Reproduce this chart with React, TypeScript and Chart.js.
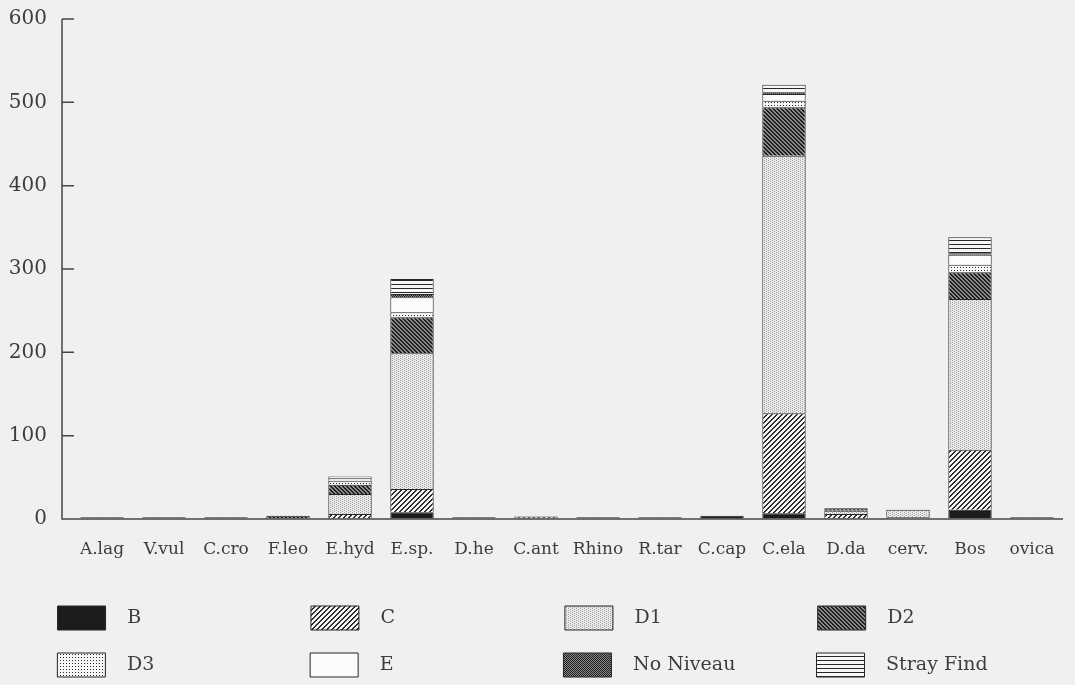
import React, { useEffect, useRef } from 'react';
import { Chart, registerables } from 'chart.js';

Chart.register(...registerables);

// Taxa along the x axis
const categories = [
  'A.lag', 'V.vul', 'C.cro', 'F.leo', 'E.hyd', 'E.sp.', 'D.he', 'C.ant',
  'Rhino', 'R.tar', 'C.cap', 'C.ela', 'D.da', 'cerv.', 'Bos', 'ovica',
];

// Find counts per level, one array per stacked series
const valuesB = [0, 0, 0, 0, 0, 8, 0, 0, 0, 0, 4, 7, 0, 0, 11, 0];
const valuesC = [2, 2, 2, 0, 6, 28, 2, 3, 2, 2, 0, 120, 6, 2, 72, 2];
const valuesD1 = [0, 0, 0, 0, 24, 163, 0, 0, 0, 0, 0, 309, 4, 9, 181, 0];
const valuesD2 = [0, 0, 0, 4, 11, 43, 0, 0, 0, 0, 0, 58, 3, 0, 32, 0];
const valuesD3 = [0, 0, 0, 0, 5, 6, 0, 0, 0, 0, 0, 8, 0, 0, 9, 0];
const valuesE = [0, 0, 0, 0, 3, 18, 0, 0, 0, 0, 0, 8, 0, 0, 12, 0];
const valuesNoNiveau = [0, 0, 0, 0, 0, 4, 0, 0, 0, 0, 0, 2, 0, 0, 2, 0];
const valuesStrayFind = [0, 0, 0, 0, 2, 18, 0, 0, 0, 0, 0, 9, 0, 0, 19, 0];

const seriesNames = ['B', 'C', 'D1', 'D2', 'D3', 'E', 'No Niveau', 'Stray Find'];
const seriesValues = [
  valuesB, valuesC, valuesD1, valuesD2, valuesD3, valuesE, valuesNoNiveau, valuesStrayFind,
];

const yTicks = [0, 100, 200, 300, 400, 500, 600];

const FONT = "'DejaVu Serif', serif";
const TEXT_COLOR = '#3d3d3d';
const AXIS_COLOR = '#454545';
const AXIS_GAP = 9; // y axis line sits a little left of the first category band
const TICK_LEN = 12;
const LEGEND_TEXT_WIDTH = 173.9;

type Painter = (x: number, y: number) => string;

// Pixel tiles for the monochrome fill patterns
const tilePainters: Record<string, { w: number; h: number; paint: Painter }> = {
  B: { w: 2, h: 2, paint: () => '#1c1c1c' },
  C: { w: 5, h: 5, paint: (x, y) => ((x + y) % 5 < 2 ? '#2e2e2e' : '#f6f6f6') },
  D1: { w: 4, h: 4, paint: (x, y) => ((x + 2 * y) % 4 === 0 ? '#a2a2a2' : '#e9e9e9') },
  D2: { w: 4, h: 4, paint: (x, y) => ((((x - y) % 4) + 4) % 4 < 2 ? '#1e1e1e' : '#8c8c8c') },
  D3: { w: 3, h: 3, paint: (x, y) => (x % 3 === 0 && y % 3 === 0 ? '#2a2a2a' : '#f7f7f7') },
  E: { w: 2, h: 2, paint: () => '#fbfbfb' },
  'No Niveau': { w: 2, h: 2, paint: (x, y) => ((x + y) % 2 === 0 ? '#1e1e1e' : '#8a8a8a') },
  'Stray Find': { w: 4, h: 4, paint: (_x, y) => (y % 4 === 0 ? '#262626' : '#f7f7f7') },
};

function makePattern(ctx: CanvasRenderingContext2D, name: string): CanvasPattern | string {
  const spec = tilePainters[name];
  const tile = document.createElement('canvas');
  tile.width = spec.w;
  tile.height = spec.h;
  const tctx = tile.getContext('2d')!;
  for (let y = 0; y < spec.h; y++) {
    for (let x = 0; x < spec.w; x++) {
      tctx.fillStyle = spec.paint(x, y);
      tctx.fillRect(x, y, 1, 1);
    }
  }
  return ctx.createPattern(tile, 'repeat') || '#888';
}

// Pads legend text so every legend entry has the same width (fixed columns)
function padLabel(ctx: CanvasRenderingContext2D, text: string, font: string, target: number) {
  ctx.save();
  ctx.font = font;
  let s = '  ' + text;
  while (ctx.measureText(s + ' ').width <= target) s += ' ';
  while (ctx.measureText(s + '\u200A').width <= target) s += '\u200A';
  ctx.restore();
  return s;
}

const axisLines = {
  id: 'axisLines',
  afterDatasetsDraw(chart: any) {
    const { ctx, chartArea, scales } = chart;
    const y = scales.y;
    const x0 = chartArea.left - AXIS_GAP;
    const yBottom = y.getPixelForValue(yTicks[0]);
    const yTop = y.getPixelForValue(yTicks[yTicks.length - 1]);
    ctx.save();
    ctx.strokeStyle = AXIS_COLOR;
    ctx.lineWidth = 1.5;
    ctx.beginPath();
    ctx.moveTo(x0, yTop);
    ctx.lineTo(x0, yBottom);
    ctx.lineTo(chartArea.right, yBottom);
    yTicks.forEach((v) => {
      const py = y.getPixelForValue(v);
      ctx.moveTo(x0, py);
      ctx.lineTo(x0 + TICK_LEN, py);
    });
    ctx.stroke();
    ctx.restore();
  },
};

export default function App() {
  const canvasRef = useRef<HTMLCanvasElement | null>(null);

  useEffect(() => {
    const canvas = canvasRef.current;
    if (!canvas) return;
    const ctx = canvas.getContext('2d')!;
    const legendFont = `19px ${FONT}`;

    const datasets = seriesNames.map((name, i) => ({
      label: name,
      data: seriesValues[i].map((v) => (v === 0 ? null : v)),
      backgroundColor: makePattern(ctx, name),
      borderColor: '#262626',
      borderWidth: 1,
      stack: 'finds',
      barPercentage: 0.7,
      categoryPercentage: 1.0,
    }));

    const chart = new Chart(canvas, {
      type: 'bar',
      data: { labels: categories, datasets: datasets as any },
      plugins: [axisLines],
      options: {
        animation: false,
        responsive: true,
        maintainAspectRatio: false,
        layout: { padding: { left: 0, top: 19, right: 0, bottom: 0 } },
        scales: {
          x: {
            type: 'category',
            stacked: true,
            offset: true,
            grid: { display: false },
            border: { display: false },
            ticks: {
              font: { family: FONT, size: 17 },
              color: TEXT_COLOR,
              padding: 12,
              maxRotation: 0,
              autoSkip: false,
            },
            afterFit: (s: any) => { s.height = 64; },
          },
          y: {
            type: 'linear',
            stacked: true,
            min: 0,
            max: 600,
            grid: {
              display: true,
              color: 'rgba(0,0,0,0)',
              drawOnChartArea: false,
              drawTicks: true,
              tickLength: 24,
            },
            border: { display: false },
            ticks: {
              stepSize: 100,
              font: { family: FONT, size: 20 },
              color: TEXT_COLOR,
              padding: 0,
            },
            afterFit: (s: any) => { s.width = 71; },
          },
          yRight: {
            type: 'linear',
            position: 'right',
            display: true,
            grid: { display: false },
            border: { display: false },
            ticks: { display: false },
            afterFit: (s: any) => { s.width = 42; },
          },
        },
        plugins: {
          tooltip: { enabled: false },
          legend: {
            position: 'bottom',
            align: 'center',
            labels: {
              boxWidth: 48,
              boxHeight: 24,
              padding: 23,
              color: TEXT_COLOR,
              font: { family: FONT, size: 19 },
              generateLabels: (ch: any) => {
                const items = Chart.defaults.plugins.legend.labels.generateLabels(ch);
                return items.map((it: any) => ({
                  ...it,
                  text: padLabel(ctx, it.text, legendFont, LEGEND_TEXT_WIDTH),
                  lineWidth: 1,
                  strokeStyle: '#262626',
                }));
              },
            },
          },
        },
      } as any,
    });

    return () => chart.destroy();
  }, []);

  return (
    <div
      style={{
        position: 'fixed',
        left: 0,
        top: 0,
        width: 1075,
        height: 685,
        overflow: 'hidden',
        background: '#f0f0ee',
      }}
    >
      <div style={{ position: 'absolute', left: 0, top: 0, width: 1105, height: 687 }}>
        <canvas ref={canvasRef} />
      </div>
    </div>
  );
}
